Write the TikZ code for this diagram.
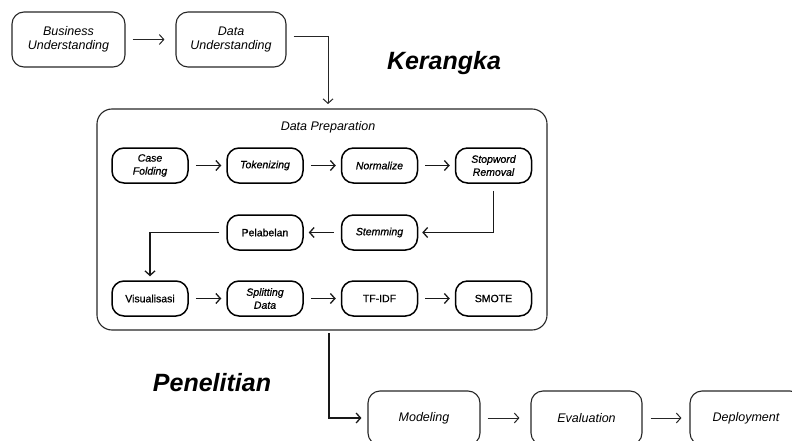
\documentclass[tikz,border=0pt]{standalone}
\usepackage{fontspec}
\setmainfont{Liberation Sans}
\newfontfamily\medfont[FakeBold=0.8]{Liberation Sans}
\usetikzlibrary{arrows.meta}
\begin{document}
\begin{tikzpicture}[x=1pt,y=-1pt,
  bigbox/.style={draw=black!85, line width=1.1pt, rounded corners=12pt, align=center,
    font=\fontsize{12.5}{14.5}\selectfont\itshape, inner sep=0pt},
  smallbox/.style={draw=black, line width=1.5pt, rounded corners=12pt, minimum width=76pt,
    minimum height=35pt, align=center, inner sep=0pt, font=\medfont\fontsize{10.5}{13}\selectfont},
  it/.append style={font=\medfont\fontsize{10.5}{13}\selectfont\itshape},
  conn/.style={draw=black!90, line width=1.3pt, -{Straight Barb[length=4.5pt,width=10pt]}},
  thinconn/.style={draw=black!85, line width=1pt, -{Straight Barb[length=4.5pt,width=10pt]}},
  title/.style={font=\fontsize{25}{30}\selectfont\bfseries\itshape}]
\useasboundingbox (0,0) rectangle (792,441);
\clip (0,0) rectangle (792,441);

% top row
\node[bigbox, minimum width=113pt, minimum height=55pt] (bu) at (68.5,39.5) {Business\\Understanding};
\node[bigbox, minimum width=110pt, minimum height=55pt] (du) at (231,39.5) {Data\\Understanding};

% titles
\node[title] (ker) at (444,63) {Kerangka};
\node[title] (pen) at (212,383) {Penelitian};

% data preparation container
\node[draw=black!85, line width=1.1pt, rounded corners=15pt, minimum width=450pt, minimum height=221pt, inner sep=0pt] (prep) at (322,219.5) {};
\node[font=\fontsize{12.5}{14}\selectfont\itshape] (preptitle) at (328,127) {Data Preparation};

% row 1
\node[smallbox, it] (cf) at (150,165.5) {Case\\Folding};
\node[smallbox, it] (tok) at (265,165.5) {Tokenizing};
\node[smallbox, it] (nor) at (379.5,165.5) {Normalize};
\node[smallbox, it] (sw) at (493.5,165.5) {Stopword\\Removal};
% row 2
\node[smallbox] (pel) at (265,232.5) {Pelabelan};
\node[smallbox, it] (stem) at (379.5,232.5) {Stemming};
% row 3
\node[smallbox] (vis) at (150,298.5) {Visualisasi};
\node[smallbox, it] (spl) at (265,298.5) {Splitting\\Data};
\node[smallbox] (tfidf) at (379.5,298.5) {TF-IDF};
\node[smallbox] (smote) at (493.5,298.5) {SMOTE};

% bottom row
\node[bigbox, minimum width=112pt, minimum height=54pt] (mod) at (424,418) {Modeling};
\node[bigbox, minimum width=111pt, minimum height=54pt] (eva) at (586.5,418) {Evaluation};
\node[bigbox, minimum width=112pt, minimum height=54pt] (dep) at (746,418) {Deployment};

% connectors
\coordinate (prepin) at (328,104);
\coordinate (prepout) at (329,333);
\draw[thinconn] ([xshift=7pt]bu.east) -- ([xshift=-11pt]du.west);
\draw[thinconn] ([xshift=7pt,yshift=2.5pt]du.east) -| (prepin);

\draw[conn] ([xshift=7pt]cf.east) -- ([xshift=-5pt]tok.west);
\draw[conn] ([xshift=7pt]tok.east) -- ([xshift=-5pt]nor.west);
\draw[conn] ([xshift=7pt]nor.east) -- ([xshift=-5pt]sw.west);
\draw[conn] ([yshift=-7pt]sw.south) |- ([xshift=4pt]stem.east);
\draw[conn] ([xshift=-7pt]stem.west) -- ([xshift=5pt]pel.east);
\draw[conn] ([xshift=-7pt]pel.west) -| ([yshift=4pt]vis.north);
\draw[conn] ([xshift=7pt]vis.east) -- ([xshift=-5pt]spl.west);
\draw[conn] ([xshift=7pt]spl.east) -- ([xshift=-5pt]tfidf.west);
\draw[conn] ([xshift=7pt]tfidf.east) -- ([xshift=-5pt]smote.west);

\draw[conn] (prepout) |- ([xshift=-6pt]mod.west);
\draw[thinconn] ([xshift=7pt]mod.east) -- ([xshift=-11pt]eva.west);
\draw[thinconn] ([xshift=8pt]eva.east) -- ([xshift=-8pt]dep.west);
\end{tikzpicture}
\end{document}
